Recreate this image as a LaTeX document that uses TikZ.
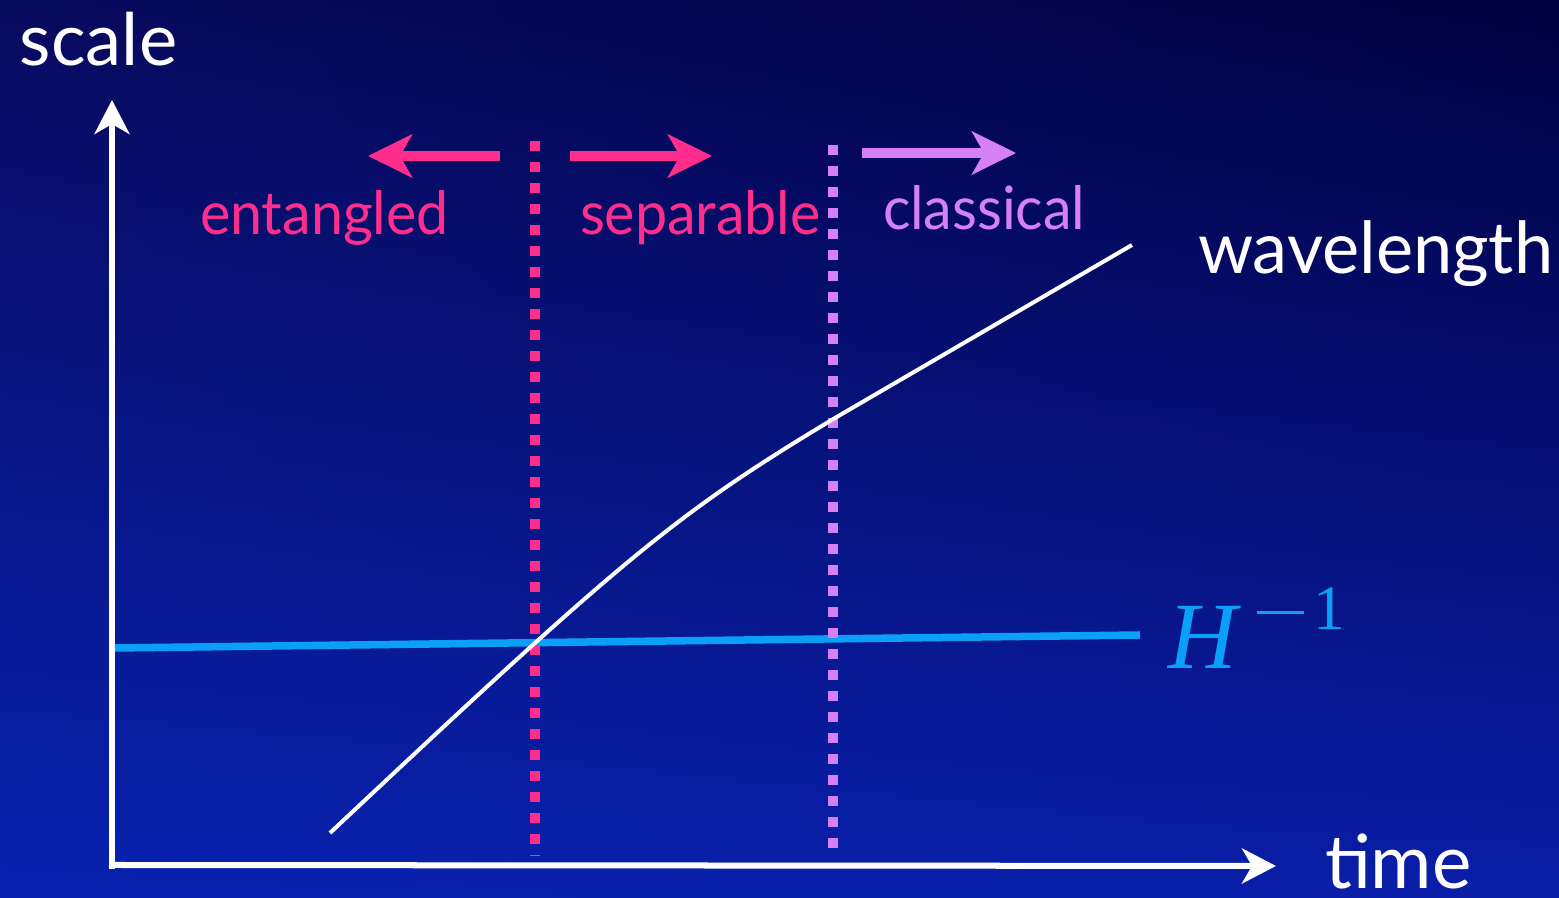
\documentclass[tikz,border=0pt]{standalone}
\usepackage{fontspec}
\setmainfont{Lato}
\newfontfamily\narrowf{Lato}[FakeStretch=0.96]
\newfontfamily\wavef{Lato}[FakeStretch=0.98]
\newfontfamily\timesf{Liberation Serif}
\usetikzlibrary{arrows.meta,shadings}
\definecolor{bgTL}{RGB}{8,10,94}
\definecolor{bgTR}{RGB}{0,0,62}
\definecolor{bgBL}{RGB}{8,34,176}
\definecolor{bgBR}{RGB}{10,30,168}
\definecolor{pinkc}{RGB}{255,45,140}
\definecolor{violetc}{RGB}{214,128,245}
\definecolor{hubble}{RGB}{10,160,248}
\tikzset{
  axis/.style={white, line width=0.06cm, -{Stealth[length=0.34cm, width=0.35cm, inset=0.1cm]}},
  bigarrow/.style={line width=0.1cm, -{Stealth[length=0.44cm, width=0.43cm, inset=0.12cm]}},
  dotline/.style={line width=0.1cm, dash pattern=on 0.1cm off 0.11cm},
  lbl/.style={anchor=base west, inner sep=0pt, outer sep=0pt},
}
\begin{document}
\begin{tikzpicture}[x=0.01cm, y=-0.01cm]
\useasboundingbox (0,0) rectangle (1559,898);
\shade[upper left=bgTL, upper right=bgTR, lower left=bgBL, lower right=bgBR] (0,0) rectangle (1559,898);
% axes
\coordinate (O) at (112,866);
\coordinate (ytip) at (112,100);
\coordinate (xtip) at (1276,866);
\draw[axis] (112,869) -- (ytip);
\draw[axis] (109,865) -- (xtip);
% Hubble radius
\coordinate (h0) at (115,648);
\coordinate (h1) at (1140,635);
\draw[hubble, line width=0.075cm] (h0) -- (h1);
% dotted lines
\coordinate (p0) at (535,141);
\coordinate (p1) at (535,856);
\coordinate (v0) at (833,145);
\coordinate (v1) at (833,853);
\draw[dotline, pinkc] (p0) -- (p1);
\draw[dotline, violetc] (v0) -- (v1);
% wavelength curve
\coordinate (w0) at (330,833);
\coordinate (w1) at (835,418);
\coordinate (w2) at (1132,245);
\draw[white, line width=0.04cm]
  (w0) .. controls (626,555) and (677,513) .. (w1) -- (w2);
% arrows
\coordinate (a1s) at (500,156);
\coordinate (a1e) at (368,156);
\coordinate (a2s) at (570,156);
\coordinate (a2e) at (712,156);
\coordinate (a3s) at (862,153);
\coordinate (a3e) at (1016,153);
\draw[bigarrow, pinkc] (a1s) -- (a1e);
\draw[bigarrow, pinkc] (a2s) -- (a2e);
\draw[bigarrow, violetc] (a3s) -- (a3e);
% labels
\node[lbl, white, font=\fontsize{20.6}{24}\selectfont] (scale) at (20,66) {scale};
\node[lbl, white, font=\fontsize{21.2}{24}\selectfont] (time) at (1325,889) {time};
\node[lbl, white, font=\wavef\fontsize{20.4}{26}\selectfont] (wave) at (1198,274) {wavelength};
\node[lbl, pinkc, font=\narrowf\fontsize{17}{22}\selectfont] (ent) at (200,235) {entangled};
\node[lbl, pinkc, font=\narrowf\fontsize{17}{22}\selectfont] (sep) at (580,235) {separable};
\node[lbl, violetc, font=\narrowf\fontsize{17}{22}\selectfont] (cls) at (883,230) {classical};
\node[lbl, hubble, font=\timesf\fontsize{27}{30}\selectfont] (H) at (1168,669)
  {\itshape H\upshape\hspace{0.2cm}\raisebox{0.545cm}{\rule{0.47cm}{0.035cm}}\hspace{0.1cm}\raisebox{0.39cm}{\fontsize{18}{20}\selectfont 1}};
\end{tikzpicture}
\end{document}
